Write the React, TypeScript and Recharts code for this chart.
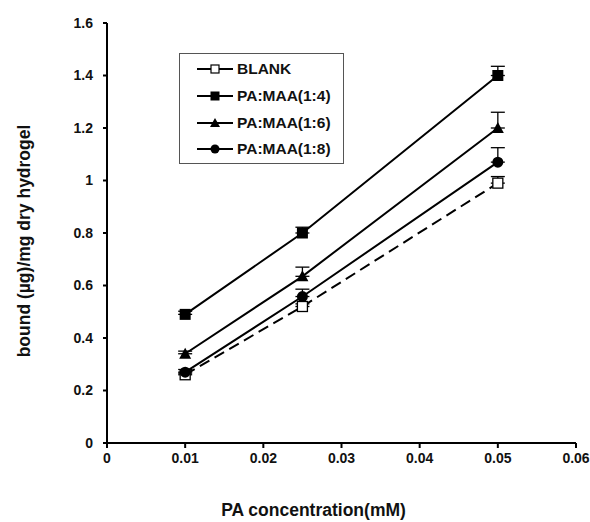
import { LineChart, Line, XAxis, YAxis, ErrorBar } from 'recharts';

// PA concentration (mM)
const concentrations = [0.01, 0.025, 0.05];

// bound (µg)/mg dry hydrogel
const blank = [0.26, 0.52, 0.99];
const maa14 = [0.49, 0.8, 1.4];
const maa16 = [0.34, 0.635, 1.2];
const maa18 = [0.27, 0.558, 1.07];

// upper error only
const blankErr = [0.006, 0.01, 0.025];
const maa14Err = [0.012, 0.022, 0.035];
const maa16Err = [0.01, 0.035, 0.06];
const maa18Err = [0.01, 0.028, 0.055];

const xTicks = [0, 0.01, 0.02, 0.03, 0.04, 0.05, 0.06];
const yTicks = [0, 0.2, 0.4, 0.6, 0.8, 1, 1.2, 1.4, 1.6];

const seriesNames = ['BLANK', 'PA:MAA(1:4)', 'PA:MAA(1:6)', 'PA:MAA(1:8)'];

const data = concentrations.map((c, i) => ({
  x: c,
  blank: blank[i],
  maa14: maa14[i],
  maa16: maa16[i],
  maa18: maa18[i],
  blankE: [0, blankErr[i]],
  maa14E: [0, maa14Err[i]],
  maa16E: [0, maa16Err[i]],
  maa18E: [0, maa18Err[i]],
}));

const OpenSquare = ({ cx, cy }: any) => (
  <rect x={cx - 5} y={cy - 5} width={10} height={10} fill="#fff" stroke="#000" strokeWidth={1.3} />
);
const FilledSquare = ({ cx, cy }: any) => (
  <rect x={cx - 5.5} y={cy - 5.5} width={11} height={11} fill="#000" />
);
const Triangle = ({ cx, cy }: any) => (
  <path d={`M${cx},${cy - 6} L${cx + 6},${cy + 5} L${cx - 6},${cy + 5} Z`} fill="#000" />
);
const Circle = ({ cx, cy }: any) => <circle cx={cx} cy={cy} r={5.5} fill="#000" />;

const markers = [
  (x: number, y: number) => <rect x={x - 4} y={y - 4} width={8} height={8} fill="#fff" stroke="#000" strokeWidth={1.2} />,
  (x: number, y: number) => <rect x={x - 4.5} y={y - 4.5} width={9} height={9} fill="#000" />,
  (x: number, y: number) => <path d={`M${x},${y - 5} L${x + 5},${y + 4} L${x - 5},${y + 4} Z`} fill="#000" />,
  (x: number, y: number) => <circle cx={x} cy={y} r={4.5} fill="#000" />,
];

const LegendBox = () => (
  <div
    style={{
      position: 'absolute',
      left: 179,
      top: 53,
      border: '1.5px solid #555',
      width: 165,
      height: 111,
      boxSizing: 'border-box',
      padding: '2px 0 0 16px',
      background: '#fff',
    }}
  >
    {seriesNames.map((name, i) => (
      <div key={name} style={{ display: 'flex', alignItems: 'center', height: 26.7 }}>
        <svg width={38} height={14} style={{ marginRight: 3 }}>
          <line x1={1} y1={7} x2={37} y2={7} stroke="#000" strokeWidth={2} />
          {markers[i](19, 7)}
        </svg>
        <span style={{ fontSize: 15.5, fontWeight: 'bold', color: '#111' }}>{name}</span>
      </div>
    ))}
  </div>
);

export default function App() {
  const tickStyle = { fontSize: 14, fontWeight: 'bold' as const, fill: '#111' };
  return (
    <div style={{ position: 'absolute', left: 0, top: 0, width: 590, height: 522, fontFamily: '"Liberation Sans", Arial, sans-serif' }}>
      <LineChart width={590} height={522} data={data} margin={{ top: 23, right: 14, left: 0, bottom: 0 }}>
        <XAxis
          dataKey="x"
          type="number"
          domain={[0, 0.06]}
          ticks={xTicks}
          tick={tickStyle}
          tickSize={5}
          tickMargin={5}
          height={79}
          stroke="#000"
          strokeWidth={2}
          interval={0}
          label={{
            value: 'PA concentration(mM)',
            position: 'insideBottom',
            offset: 6,
            dx: -28,
            style: { fontSize: 17.5, fontWeight: 'bold', fill: '#111' },
          }}
        />
        <YAxis
          type="number"
          domain={[0, 1.6]}
          ticks={yTicks}
          tick={tickStyle}
          tickSize={4}
          tickMargin={10}
          width={107}
          stroke="#000"
          strokeWidth={2}
          interval={0}
          label={{
            value: 'bound (µg)/mg dry hydrogel',
            angle: -90,
            position: 'center',
            dx: -30,
            dy: 8,
            style: { fontSize: 17.5, fontWeight: 'bold', fill: '#111', textAnchor: 'middle' },
          }}
        />
        <Line dataKey="blank" name="BLANK" stroke="#000" strokeWidth={2} strokeDasharray="11 6" dot={<OpenSquare />} isAnimationActive={false}>
          <ErrorBar dataKey="blankE" width={7} stroke="#000" strokeWidth={1.3} direction="y" />
        </Line>
        <Line dataKey="maa18" name="PA:MAA(1:8)" stroke="#000" strokeWidth={2} dot={<Circle />} isAnimationActive={false}>
          <ErrorBar dataKey="maa18E" width={7} stroke="#000" strokeWidth={1.3} direction="y" />
        </Line>
        <Line dataKey="maa16" name="PA:MAA(1:6)" stroke="#000" strokeWidth={2} dot={<Triangle />} isAnimationActive={false}>
          <ErrorBar dataKey="maa16E" width={7} stroke="#000" strokeWidth={1.3} direction="y" />
        </Line>
        <Line dataKey="maa14" name="PA:MAA(1:4)" stroke="#000" strokeWidth={2} dot={<FilledSquare />} isAnimationActive={false}>
          <ErrorBar dataKey="maa14E" width={7} stroke="#000" strokeWidth={1.3} direction="y" />
        </Line>
      </LineChart>
      <LegendBox />
    </div>
  );
}
